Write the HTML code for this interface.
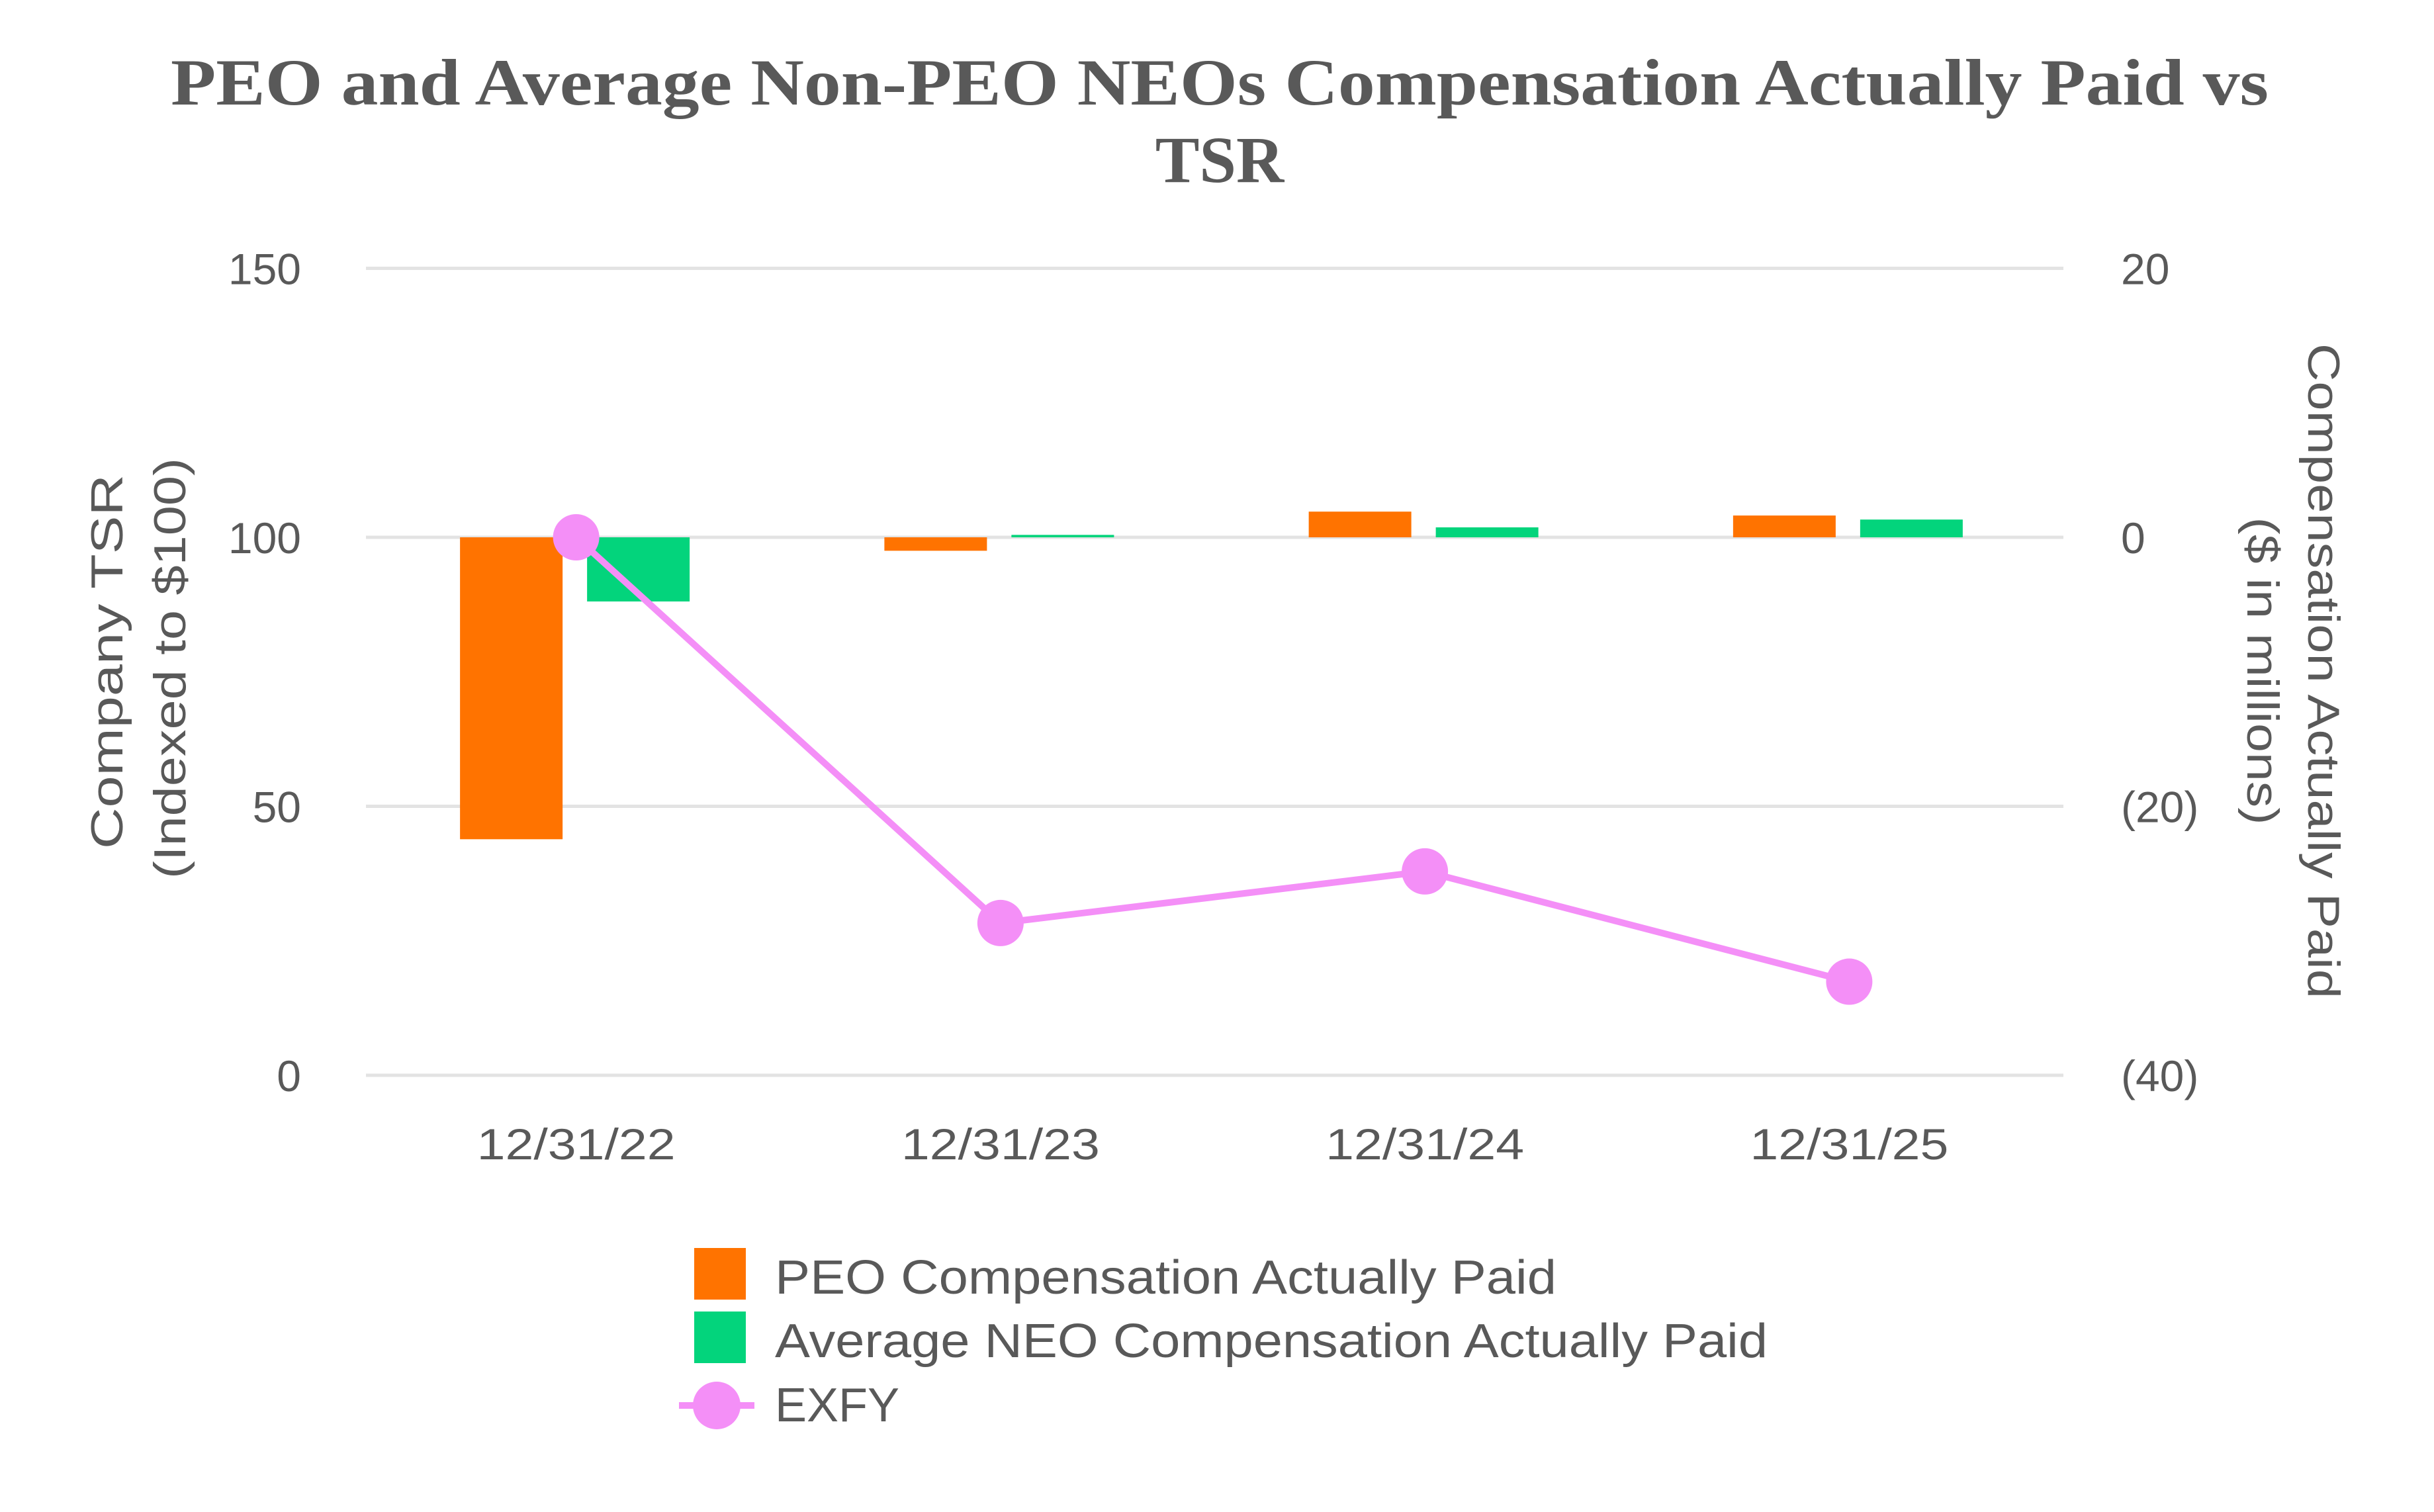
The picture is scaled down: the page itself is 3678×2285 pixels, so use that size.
<!DOCTYPE html>
<html><head><meta charset="utf-8"><style>
html,body{margin:0;padding:0;background:#fff;}
svg text{font-family:"Liberation Sans",sans-serif;fill:#595959;}
</style></head><body>
<svg id="chart" width="3678" height="2280" viewBox="0 0 3678 2280" xmlns="http://www.w3.org/2000/svg">
<g>
<text x="1843" y="158" text-anchor="middle" font-size="100" font-weight="bold" style="font-family:'Liberation Serif',serif" textLength="3170" lengthAdjust="spacingAndGlyphs">PEO and Average Non-PEO NEOs Compensation Actually Paid vs</text>
<text x="1843" y="275" text-anchor="middle" font-size="100" font-weight="bold" style="font-family:'Liberation Serif',serif">TSR</text>
</g>
<g id="grid"></g>
<g id="bars"></g>
<g id="line"></g>
<g id="ticks"></g>
<text transform="translate(185,1000) rotate(-90)" text-anchor="middle" font-size="68" textLength="566" lengthAdjust="spacingAndGlyphs">Company TSR</text>
<text transform="translate(280,1010) rotate(-90)" text-anchor="middle" font-size="68" textLength="636" lengthAdjust="spacingAndGlyphs">(Indexed to $100)</text>
<text transform="translate(3488,1014) rotate(90)" text-anchor="middle" font-size="68" textLength="990" lengthAdjust="spacingAndGlyphs">Compensation Actually Paid</text>
<text transform="translate(3396,1014) rotate(90)" text-anchor="middle" font-size="68" textLength="465" lengthAdjust="spacingAndGlyphs">($ in millions)</text>
<g>
<rect x="1049" y="1886" width="78" height="78" fill="#FF7300"/>
<text x="1171" y="1955" font-size="72" textLength="1181" lengthAdjust="spacingAndGlyphs">PEO Compensation Actually Paid</text>
<rect x="1049" y="1982" width="78" height="78" fill="#03D47C"/>
<text x="1171" y="2051" font-size="72" textLength="1500" lengthAdjust="spacingAndGlyphs">Average NEO Compensation Actually Paid</text>
<line x1="1026" y1="2124" x2="1140" y2="2124" stroke="#F48FF7" stroke-width="10"/>
<circle cx="1083" cy="2124" r="36" fill="#F48FF7"/>
<text x="1171" y="2148" font-size="72">EXFY</text>
</g>
</svg>
<script>
const categories = ["12/31/22","12/31/23","12/31/24","12/31/25"];
const peoValues = [-22.45, -1.0, 1.91, 1.62];
const neoValues = [-4.77, 0.18, 0.74, 1.32];
const tsrValues = [100, 28.3, 37.9, 17.4];
const leftTicks = [0, 50, 100, 150];
const rightTicks = [-40, -20, 0, 20];
const rightTickLabels = ["(40)","(20)","0","20"];

const NS = "http://www.w3.org/2000/svg";
const plotL = 553, plotR = 3118, plotTop = 405.5, plotBot = 1625;
function yLeft(v){ return plotBot - (v/150)*(plotBot-plotTop); }
function yRight(v){ return plotBot - ((v+40)/60)*(plotBot-plotTop); }
const band = (plotR-plotL)/categories.length;
function xCenter(i){ return plotL + band*(i+0.5) - 3; }
const barW = 155;
function mk(tag, attrs, parent){ const e=document.createElementNS(NS,tag); for(const k in attrs) e.setAttribute(k,attrs[k]); parent.appendChild(e); return e; }

const grid=document.getElementById('grid'), bars=document.getElementById('bars'), line=document.getElementById('line'), ticks=document.getElementById('ticks');
leftTicks.forEach((t)=>{
  const g = mk('line',{x1:plotL,x2:plotR,y1:yLeft(t),y2:yLeft(t),stroke:'#E3E3E3','stroke-width':5},grid);
  
  
  const tx = mk('text',{x:455,y:yLeft(t)+24,'text-anchor':'end','font-size':66},ticks);
  tx.textContent=t;
  
  
});
rightTicks.forEach((t,i)=>{
  const tx = mk('text',{x:3205,y:yRight(t)+24,'font-size':66},ticks);
  tx.textContent=rightTickLabels[i];
  
  
});
categories.forEach((c,i)=>{
  const tx = mk('text',{x:xCenter(i),y:1752,'text-anchor':'middle','font-size':66,textLength:300,lengthAdjust:'spacingAndGlyphs'},ticks);
  tx.textContent=c;
  
  
  const y0=yRight(0);
  const yp=yRight(peoValues[i]);
  const b1 = mk('rect',{x:xCenter(i)-98-barW/2,y:Math.min(y0,yp),width:barW,height:Math.abs(yp-y0),fill:'#FF7300'},bars);
  
  
  const yn=yRight(neoValues[i]);
  const b2 = mk('rect',{x:xCenter(i)+94-barW/2,y:Math.min(y0,yn),width:barW,height:Math.abs(yn-y0),fill:'#03D47C'},bars);
  
  
});
const pts = tsrValues.map((v,i)=>xCenter(i)+','+yLeft(v)).join(' ');
const pl = mk('polyline',{points:pts,fill:'none',stroke:'#F48FF7','stroke-width':10,'stroke-linejoin':'round'},line);


tsrValues.forEach((v,i)=>{
  const c = mk('circle',{cx:xCenter(i),cy:yLeft(v),r:35,fill:'#F48FF7'},line);
  
  
});
</script>
</body></html>
